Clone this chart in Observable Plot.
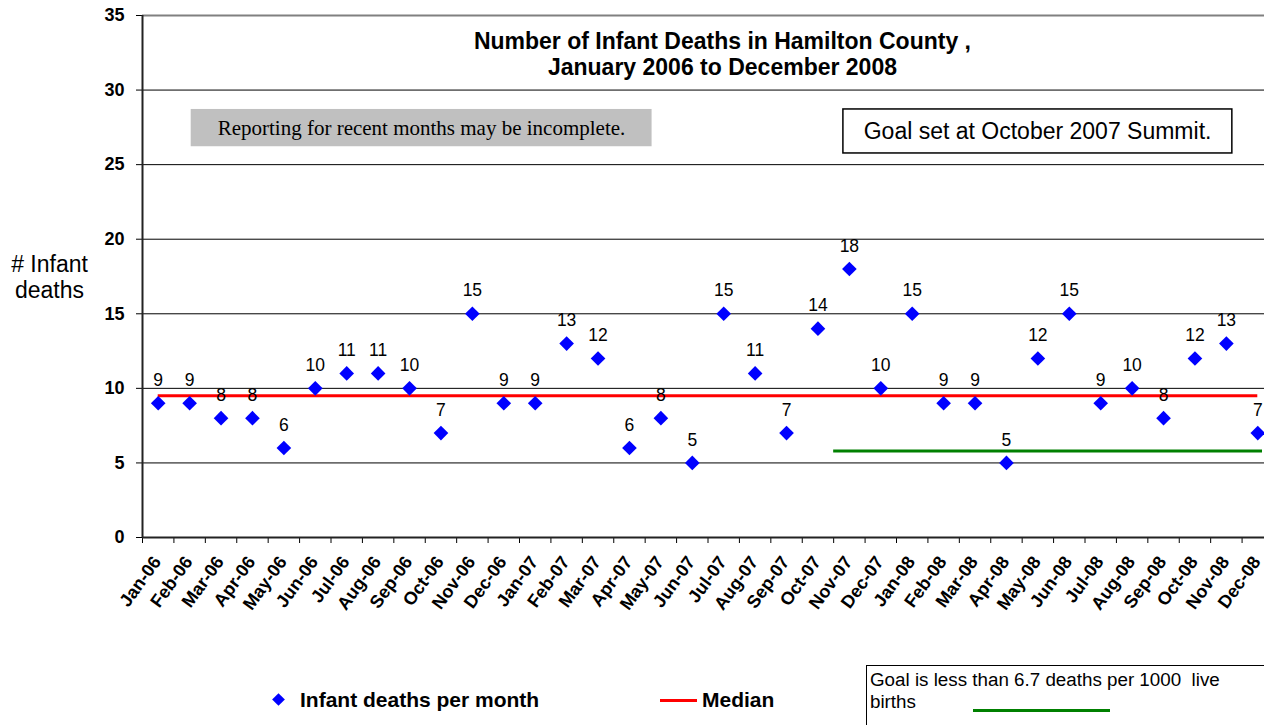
<!DOCTYPE html>
<html><head><meta charset="utf-8">
<script src="https://cdn.jsdelivr.net/npm/d3@7"></script>
<script src="https://cdn.jsdelivr.net/npm/@observablehq/plot@0.6"></script>
<style>
html,body{margin:0;padding:0;background:#fff;overflow:hidden;}
#wrap{position:relative;width:1264px;height:725px;overflow:hidden;font-family:"Liberation Sans",Arial,sans-serif;color:#000;}
#chart svg{display:block;}
#legend{position:relative;width:1264px;height:85px;}
.abs{position:absolute;white-space:nowrap;}
</style></head><body>
<div id="wrap"><div id="chart"></div>
<div id="legend">
  <div class="abs" style="left:274px;top:55px;width:9px;height:9px;background:#0000ff;transform:rotate(45deg);"></div>
  <div class="abs" style="left:300px;top:47px;font-size:21px;font-weight:bold;line-height:26px;">Infant deaths per month</div>
  <div class="abs" style="left:660px;top:59px;width:37px;height:3px;background:#ff0000;"></div>
  <div class="abs" style="left:702px;top:47px;font-size:21px;font-weight:bold;line-height:26px;">Median</div>
  <div class="abs" style="left:866px;top:25px;width:420px;height:80px;border:1px solid #000;box-sizing:border-box;"></div>
  <div class="abs" style="left:870px;top:29px;font-size:18.8px;line-height:22px;">Goal is less than 6.7 deaths per 1000&nbsp; live<br>births</div>
  <div class="abs" style="left:973px;top:69px;width:137px;height:3px;background:#008000;"></div>
</div>
</div>
<script>
const months = ["Jan-06","Feb-06","Mar-06","Apr-06","May-06","Jun-06","Jul-06","Aug-06","Sep-06","Oct-06","Nov-06","Dec-06",
  "Jan-07","Feb-07","Mar-07","Apr-07","May-07","Jun-07","Jul-07","Aug-07","Sep-07","Oct-07","Nov-07","Dec-07",
  "Jan-08","Feb-08","Mar-08","Apr-08","May-08","Jun-08","Jul-08","Aug-08","Sep-08","Oct-08","Nov-08","Dec-08"];
const deaths = [9,9,8,8,6,10,11,11,10,7,15,9,
  9,13,12,6,8,5,15,11,7,14,18,10,
  15,9,9,5,12,15,9,10,8,12,13,7];
const yTicks = [0,5,10,15,20,25,30,35];
const goalValue = 5.8;
const goalStartIndex = 21.5; // goal set between Oct-07 and Nov-07
const titleText = "Number of Infant Deaths in Hamilton County ,\nJanuary 2006 to December 2008";
const yTitle = "# Infant\ndeaths";
const noteText = "Reporting for recent months may be incomplete.";
const goalNote = "Goal set at October 2007 Summit.";

const table = months.map((m, i) => ({i, month: m, value: deaths[i]}));
const medianValue = d3.median(deaths);
const n = months.length;
const boundaries = d3.range(-0.5, n, 1);
const font = '"Liberation Sans", Arial, sans-serif';

const chart = Plot.plot({
  width: 1264, height: 640,
  marginLeft: 142, marginTop: 15, marginBottom: 103, marginRight: 0,
  style: {fontFamily: font, color: "#000", background: "#fff", overflow: "hidden"},
  x: {domain: [-0.5, n - 0.5], range: [142, 1273]},
  y: {domain: [0, 35]},
  marks: [
    // gridlines
    Plot.ruleY(yTicks.filter(d => d > 0 && d < 35), {stroke: "#000", strokeWidth: 1}),
    Plot.ruleY([35], {stroke: "#808080", strokeWidth: 2}),
    // annotation boxes
    Plot.rect([noteText], {x1: 1.05, x2: 15.72, y1: 26.2, y2: 28.7, fill: "#c0c0c0"}),
    Plot.text([noteText], {x: 8.38, y: 27.45, text: d => d, fontFamily: '"Liberation Serif", "Times New Roman", serif', fontSize: 21, fill: "#000"}),
    Plot.rect([goalNote], {x1: 21.81, x2: 34.19, y1: 25.75, y2: 28.7, fill: "#fff", stroke: "#000", strokeWidth: 1.5}),
    Plot.text([goalNote], {x: 27.99, y: 27.2, text: d => d, fontSize: 23, fill: "#000"}),
    // title
    Plot.text([titleText], {x: 17.96, y: 32.45, text: d => d, fontSize: 23, fontWeight: "bold", lineHeight: 1.13, fill: "#000"}),
    // y title
    Plot.text([yTitle], {frameAnchor: "left", y: 17.47, dx: -93, textAnchor: "middle", text: d => d, fontSize: 23, lineHeight: 1.1, fill: "#000"}),
    // median and goal
    Plot.ruleY([medianValue], {x1: 0, x2: n - 1, stroke: "#ff0000", strokeWidth: 3}),
    Plot.ruleY([goalValue], {x1: goalStartIndex, x2: n - 0.85, stroke: "#008000", strokeWidth: 3}),
    // axes
    Plot.axisY({ticks: yTicks, tickSize: 6, tickPadding: 12, fontSize: 18, fontWeight: "bold", label: null, stroke: "#000"}),
    Plot.axisX({ticks: boundaries, tickSize: 6, tickFormat: () => "", label: null, stroke: "#000"}),
    Plot.ruleX([-0.5], {stroke: "#222", strokeWidth: 2}),
    Plot.ruleY([0], {stroke: "#222", strokeWidth: 2}),
    // x labels
    Plot.text(table, {x: "i", y: 0, text: "month", rotate: -54, textAnchor: "end", dx: -1, dy: 21, fontSize: 18, fontWeight: "bold", fill: "#000"}),
    // points and labels
    Plot.dot(table, {x: "i", y: "value", symbol: "diamond2", r: 6.6, fill: "#0000ff", stroke: "none"}),
    Plot.text(table, {x: "i", y: "value", text: d => String(d.value), dy: -23, fontSize: 17.5, fill: "#000"})
  ]
});
document.getElementById("chart").appendChild(chart);
</script>
</body></html>
